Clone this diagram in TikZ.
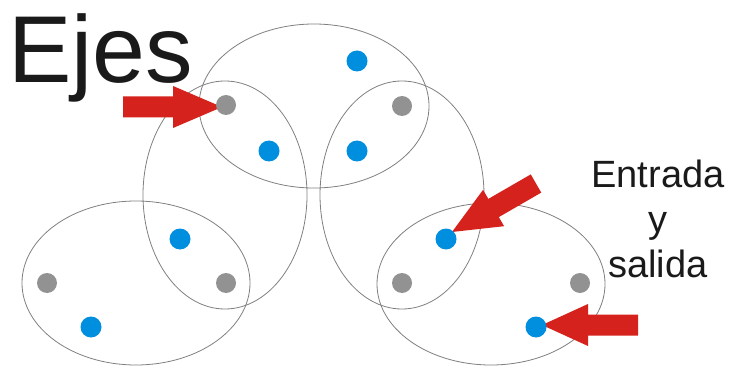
\documentclass[tikz,border=0pt]{standalone}
\usepackage{fontspec}
\setmainfont{Liberation Sans}
\definecolor{dotblue}{RGB}{0,142,222}
\definecolor{dotgray}{RGB}{146,146,146}
\definecolor{arrowred}{RGB}{214,34,28}
\definecolor{linegray}{RGB}{128,128,128}
\definecolor{textblack}{RGB}{26,26,26}
\begin{document}
\begin{tikzpicture}[x=1pt,y=-1pt,
  ell/.style={draw=linegray, line width=0.8pt},
  bluedot/.style={circle, fill=dotblue, minimum size=21pt, inner sep=0pt},
  graydot/.style={circle, fill=dotgray, minimum size=20pt, inner sep=0pt},
  redarrow/.style={fill=arrowred, draw=none},
  lbl/.style={inner sep=0pt, text=textblack}]
\useasboundingbox (0,0) rectangle (735,366);
\fill[white] (0,0) rectangle (735,366);

% ellipses
\draw[ell] (314,106) ellipse [x radius=115pt, y radius=82pt];
\draw[ell] (225,195) ellipse [x radius=82pt, y radius=114pt];
\draw[ell] (402,195) ellipse [x radius=82pt, y radius=114pt];
\draw[ell] (136,283) ellipse [x radius=114pt, y radius=82pt];
\draw[ell] (491,284) ellipse [x radius=114pt, y radius=81pt];

% red block arrows (tip at origin, tail along +x)
\fill[redarrow, shift={(222,107)}, rotate=180]
  (0,0) -- (49,-21) -- (49,-10.5) -- (99,-10.5) -- (99,10.5) -- (49,10.5) -- (49,21) -- cycle;
\fill[redarrow, shift={(452,232)}, rotate=30]
  (0,0) -- (48,-21) -- (48,-10.5) -- (97,-10.5) -- (97,10.5) -- (48,10.5) -- (48,21) -- cycle;
\fill[redarrow, shift={(542,325)}]
  (0,0) -- (46,-21) -- (46,-10.5) -- (96,-10.5) -- (96,10.5) -- (46,10.5) -- (46,21) -- cycle;

% dots
\node[graydot] (g1) at (226,105) {};
\node[graydot] (g2) at (402,106) {};
\node[graydot] (g3) at (47,283) {};
\node[graydot] (g4) at (226,283) {};
\node[graydot] (g5) at (402,283) {};
\node[graydot] (g6) at (580,283) {};
\node[bluedot] (b1) at (357,61) {};
\node[bluedot] (b2) at (269,151) {};
\node[bluedot] (b3) at (357,151) {};
\node[bluedot] (b4) at (180,239) {};
\node[bluedot] (b5) at (91,327) {};
\node[bluedot] (b6) at (446,239) {};
\node[bluedot] (b7) at (536,327) {};

% texts
\node[lbl, anchor=base west, font=\fontsize{95}{95}\selectfont] (ejes) at (8,83) {Ejes};
\node[lbl, anchor=base, font=\fontsize{38}{45}\selectfont] (entrada) at (658,187) {Entrada};
\node[lbl, anchor=base, font=\fontsize{38}{45}\selectfont] (y) at (658,232) {y};
\node[lbl, anchor=base, font=\fontsize{38}{45}\selectfont] (salida) at (658,277) {salida};
\end{tikzpicture}
\end{document}
